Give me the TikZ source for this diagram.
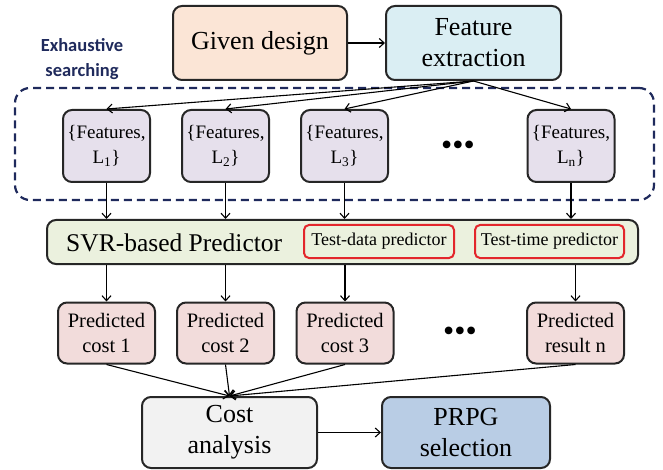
\documentclass[tikz,border=0pt]{standalone}
\usepackage{fontspec}
\setmainfont{Liberation Serif}[Ligatures=TeX]
\newfontfamily\serifbox{Liberation Serif}
\newfontfamily\labelfont{Carlito}
\usetikzlibrary{arrows.meta}

\definecolor{givenfill}{HTML}{FBE5D6}
\definecolor{extractfill}{HTML}{DAEEF3}
\definecolor{featfill}{HTML}{E6E0EC}
\definecolor{svrfill}{HTML}{EBF1DE}
\definecolor{predfill}{HTML}{F2DCDB}
\definecolor{costfill}{HTML}{F2F2F2}
\definecolor{prpgfill}{HTML}{B9CDE5}
\definecolor{boxred}{HTML}{E3262C}
\definecolor{navy}{HTML}{1F2A5C}

\begin{document}
\begin{tikzpicture}[x=1pt,y=-1pt,
  every node/.style={font=\serifbox},
  box/.style={draw=black!85,line width=2pt,rounded corners=9pt,align=center,inner sep=0pt},
  bigbox/.style={box,minimum height=74pt,font=\serifbox\fontsize{26}{31}\selectfont},
  featbox/.style={box,fill=featfill,minimum width=87pt,minimum height=72pt,font=\serifbox\fontsize{19}{25}\selectfont},
  predbox/.style={box,fill=predfill,minimum width=97pt,minimum height=61pt,font=\serifbox\fontsize{20.5}{25}\selectfont},
  redbox/.style={draw=boxred,line width=2pt,rounded corners=5pt,minimum height=33pt,inner sep=0pt,font=\serifbox\fontsize{18}{20}\selectfont},
  link/.style={-{Straight Barb[length=5pt,width=9pt]},line width=1.1pt},
  dotsnode/.style={font=\serifbox\fontsize{32}{32}\selectfont,inner sep=0pt}]
\useasboundingbox (0,0) rectangle (663,470);

\node[draw=navy,line width=2.2pt,dash pattern=on 8pt off 5pt,rounded corners=15pt,
  minimum width=639pt,minimum height=112pt] (search) at (334.5,144) {};
\node[font=\labelfont\bfseries\fontsize{18.5}{25}\selectfont,text=navy,align=center] (searchlabel) at (82,59) {Exhaustive\\searching};

\node[bigbox,fill=givenfill,minimum width=174pt] (given) at (260,43) {Given design};
\node[bigbox,fill=extractfill,minimum width=175pt] (extract) at (473.5,43) {Feature\\extraction};

\node[featbox] (feat1) at (106.5,146) {\{Features,\\L\textsubscript{1}\}};
\node[featbox] (feat2) at (225.5,146) {\{Features,\\L\textsubscript{2}\}};
\node[featbox] (feat3) at (344.5,146) {\{Features,\\L\textsubscript{3}\}};
\node[featbox] (featn) at (571,146) {\{Features,\\L\textsubscript{n}\}};
\node[dotsnode] (featdots) at (458,148) {•••};

\node[box,fill=svrfill,minimum width=591pt,minimum height=44pt] (svr) at (342.5,242) {};
\node[anchor=west,font=\serifbox\fontsize{25.5}{28}\selectfont,inner sep=0pt] (svrtext) at (66,243) {SVR-based Predictor};
\node[redbox,minimum width=150pt] (testdata) at (379,241.5) {Test-data predictor};
\node[redbox,minimum width=149pt] (testtime) at (549.5,241.5) {Test-time predictor};

\node[predbox] (pred1) at (106.5,333) {Predicted\\cost 1};
\node[predbox] (pred2) at (225.5,333) {Predicted\\cost 2};
\node[predbox] (pred3) at (345,333) {Predicted\\cost 3};
\node[predbox] (predn) at (575.5,333) {Predicted\\result n};
\node[dotsnode] (preddots) at (460,334) {•••};

\node[bigbox,fill=costfill,minimum width=175pt,minimum height=71pt] (cost) at (229.5,432.5) {Cost\\analysis};
\node[bigbox,fill=prpgfill,minimum width=168pt,minimum height=71pt] (prpg) at (466,432.5) {PRPG\\selection};

\draw[link] (given) -- (extract);
\foreach \f in {feat1,feat2,feat3,featn}
  \draw[link] (extract.south) -- (\f.north);
\foreach \f in {feat1,feat2,feat3,featn}
  \draw[link] (\f.south) -- (\f.south |- svr.north);
\foreach \p in {pred1,pred2,pred3,predn}
  \draw[link] (svr.south -| \p.north) -- (\p.north);
\foreach \p in {pred1,pred2,pred3,predn}
  \draw[link] (\p.south) -- (cost.north);
\draw[link] (cost) -- (prpg);
\end{tikzpicture}
\end{document}
